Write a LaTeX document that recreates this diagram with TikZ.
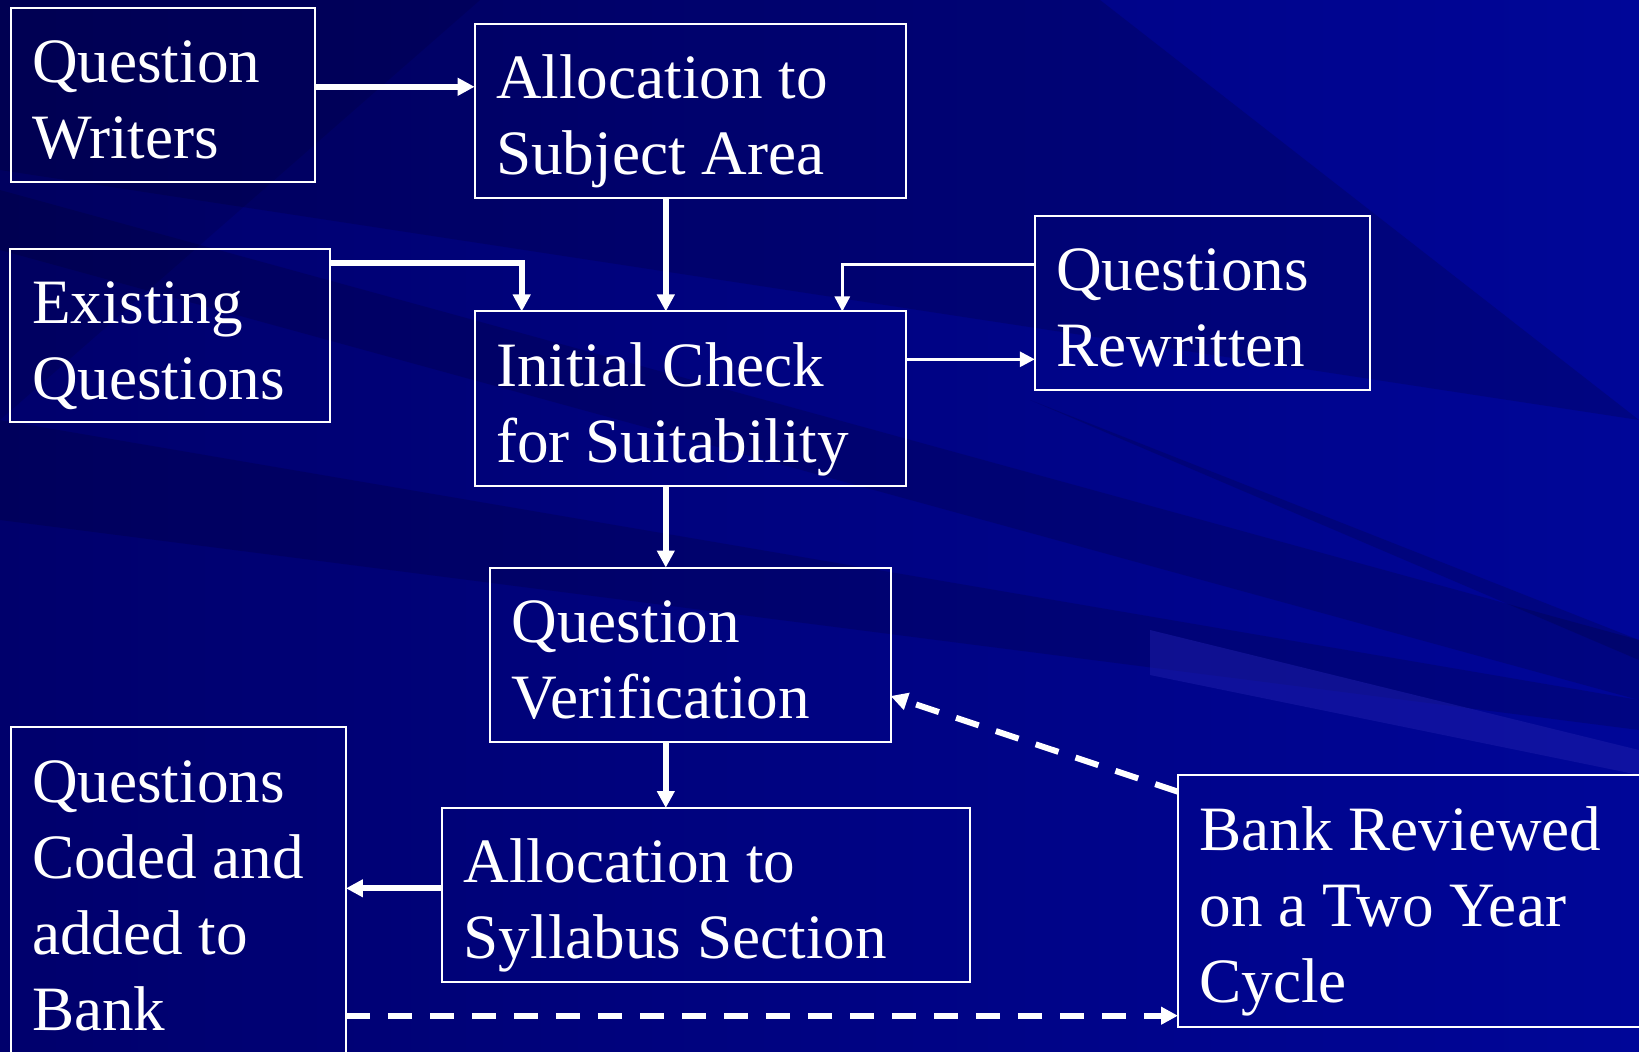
\documentclass[tikz,border=0pt]{standalone}
\usepackage{fontspec}
\setmainfont{Liberation Serif}
\usetikzlibrary{arrows.meta}

\definecolor{bgdark}{RGB}{0,0,108}
\definecolor{bglight}{RGB}{0,6,152}
\definecolor{streak}{RGB}{30,30,170}

\tikzset{every picture/.style={line width=0.75pt}}
\tikzset{
  box/.style={draw=white, line width=1.5pt, inner sep=0pt, outer sep=0pt},
  boxtext/.style={text=white, font=\fontsize{47.4}{57}\selectfont, align=left, anchor=north west, inner sep=0pt},
  bigarrow/.style={draw=white, line width=4.5pt, -{Triangle[length=12.75pt,width=12.75pt]}},
  thinarrow/.style={draw=white, line width=2.25pt, -{Triangle[length=11.25pt,width=11.25pt]}},
  dasharrow/.style={bigarrow, dash pattern=on 18pt off 13.5pt},
  darkband/.style={fill=black, opacity=0.14},
}

\begin{document}
\begin{tikzpicture}[x=0.75pt,y=0.75pt,yscale=-1,xscale=1]
\useasboundingbox (0,0) rectangle (1639,1052);
\clip (0,0) rectangle (1639,1052);

% background
\shade [left color=bgdark, right color=bglight] (0,0) rectangle (1639,1052);
\fill [darkband] (0,0) -- (1100,0) -- (1639,420) -- (0,170) -- cycle;
\fill [darkband] (0,190) -- (1639,640) -- (1639,700) -- (0,250) -- cycle;
\fill [darkband] (0,420) -- (1639,700) -- (1639,730) -- (0,520) -- cycle;
\fill [darkband] (1030,400) -- (1639,640) -- (1639,660) -- cycle;
\fill [darkband, opacity=0.1] (0,0) -- (480,0) -- (0,420) -- cycle;
\fill [streak, opacity=0.5] (1150,630) -- (1639,750) -- (1639,775) -- (1150,675) -- cycle;

% boxes
\node [box, minimum width=228pt, minimum height=130.1pt] (qw) at (162.5,95.1) {};
\node [box, minimum width=323.8pt, minimum height=130.2pt] (as) at (690.5,110.8) {};
\node [box, minimum width=239.9pt, minimum height=130.1pt] (eq) at (170.4,335.5) {};
\node [box, minimum width=323.8pt, minimum height=131pt] (ic) at (690.5,398.8) {};
\node [box, minimum width=251.7pt, minimum height=130.1pt] (qr) at (1202.6,303.1) {};
\node [box, minimum width=300.3pt, minimum height=131pt] (qv) at (690.4,654.9) {};
\node [box, minimum width=395.9pt, minimum height=130.5pt] (ss) at (706.1,895) {};
\node [box, minimum width=251.6pt, minimum height=258.4pt] (qc) at (178.25,899.75) {};
\node [box, minimum width=361.5pt, minimum height=188.3pt] (br) at (1419,901) {};

% texts
\node [boxtext] (qw-t) at (31.5,29.2) {\strut Question\\Writers};
\node [boxtext] (as-t) at (495.6,44.8) {\strut Allocation to\\Subject Area};
\node [boxtext] (eq-t) at (31.5,269.6) {\strut Existing\\Questions};
\node [boxtext] (ic-t) at (495.6,332.3) {\strut Initial Check\\for Suitability};
\node [boxtext] (qr-t) at (1055.8,237.2) {\strut Questions\\Rewritten};
\node [boxtext] (qv-t) at (511.2,588.4) {\strut Question\\Verification};
\node [boxtext] (ss-t) at (463.2,828.8) {\strut Allocation to\\Syllabus Section};
\node [boxtext] (qc-t) at (31.5,748.3) {\strut Questions\\Coded and\\added to\\Bank};
\node [boxtext] (br-t) at (1199,796.4) {\strut Bank Reviewed\\on a Two Year\\Cycle};

% connectors
\coordinate (spine) at (665.8,0);
\draw [bigarrow] (qw.east |- 0,86.8) -- (as.west |- 0,86.8);
\draw [bigarrow] (as.south -| spine) -- (ic.north -| spine);
\draw [bigarrow] (eq.east |- 0,263.3) -| (ic.north west -| 521.7,0);
\draw [thinarrow] (qr.west |- 0,264) -| (ic.north west -| 842.3,0);
\draw [thinarrow] (ic.east |- 0,359.3) -- (qr.west |- 0,359.3);
\draw [bigarrow] (ic.south -| spine) -- (qv.north -| spine);
\draw [bigarrow] (qv.south -| spine) -- (ss.north -| spine);
\draw [bigarrow] (ss.west |- 0,888.3) -- (qc.east |- 0,888.3);
\draw [dasharrow] (qc.east |- 0,1015.7) -- (br.west |- 0,1015.7);
\draw [dasharrow] (br.west |- 0,791.7) -- (qv.east |- 0,696);

\end{tikzpicture}
\end{document}
